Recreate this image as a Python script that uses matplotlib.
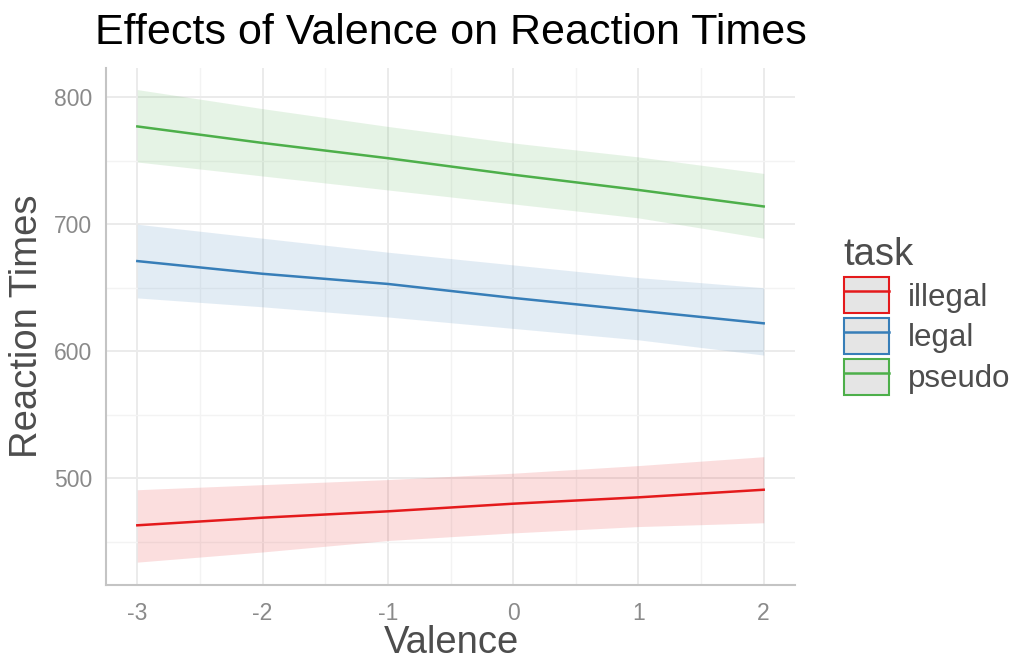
import matplotlib
matplotlib.use("Agg")
import matplotlib.pyplot as plt
from matplotlib.patches import Patch
from matplotlib.lines import Line2D
from matplotlib.legend_handler import HandlerTuple

plt.rcParams['font.family'] = ['Liberation Sans', 'DejaVu Sans']

# effect estimates
valence = [-3, -2, -1, 0, 1, 2]
tasks = ['illegal', 'legal', 'pseudo']
fit = {
    'illegal': [463, 469, 474, 480, 485, 491],
    'legal': [671, 661, 653, 642, 632, 622],
    'pseudo': [777, 764, 752, 739, 727, 714],
}
lower = {
    'illegal': [434, 442, 451, 457, 462, 465],
    'legal': [642, 635, 627, 618, 609, 597],
    'pseudo': [749, 738, 727, 716, 705, 689],
}
upper = {
    'illegal': [491, 495, 499, 504, 510, 517],
    'legal': [700, 689, 678, 668, 658, 650],
    'pseudo': [806, 791, 777, 764, 753, 740],
}
colors = {'illegal': '#E41A1C', 'legal': '#377EB8', 'pseudo': '#4DAF4A'}

fig = plt.figure(figsize=(10.21, 6.61), dpi=100)
ax = fig.add_axes([106/1021, 1-585/661, (795-106)/1021, (585-68)/661])

for t in tasks:
    ax.fill_between(valence, lower[t], upper[t], color=colors[t], alpha=0.14, lw=0)
    ax.plot(valence, fit[t], color=colors[t], lw=1.8)

ax.set_xlim(-3.25, 2.25)
ax.set_ylim(416, 823)
ax.set_xticks(valence)
ax.set_xticklabels([str(v) for v in valence])
ax.set_xticks([-2.5, -1.5, -0.5, 0.5, 1.5], minor=True)
ax.set_yticks([500, 600, 700, 800])
ax.set_yticks([450, 550, 650, 750], minor=True)
ax.grid(True, which='major', color='#ebebeb', lw=1.4)
ax.grid(True, which='minor', color='#f3f3f3', lw=1.0)
ax.set_axisbelow(True)
ax.tick_params(which='both', length=0, labelsize=16.5, labelcolor='#8a8a8a')
ax.tick_params(axis='x', pad=12)
ax.tick_params(axis='y', pad=10)
for s in ['top', 'right']:
    ax.spines[s].set_visible(False)
for s in ['left', 'bottom']:
    ax.spines[s].set_color('#c4c4c4')
    ax.spines[s].set_linewidth(1.5)

fig.text(451/1021, 1-643/661, 'Valence', fontsize=27.5, color='#4d4d4d',
         ha='center', va='center')
fig.text(27/1021, 1-326/661, 'Reaction Times', fontsize=27.5, color='#4d4d4d',
         ha='center', va='center', rotation=90)
ax.set_title('Effects of Valence on Reaction Times', fontsize=31, color='black', pad=17)

handles = [(Patch(facecolor='#e5e5e5', edgecolor=colors[t], lw=1.5),
            Line2D([], [], color=colors[t], lw=1.8)) for t in tasks]
leg = fig.legend(handles, tasks, loc='upper left',
                 bbox_to_anchor=(828/1021, 1-221/661), frameon=False,
                 fontsize=22.5, title='task', title_fontsize=27.5,
                 handler_map={tuple: HandlerTuple(ndivide=1, pad=0)},
                 handlelength=1.45, handleheight=1.42, labelspacing=0.14,
                 handletextpad=0.6, borderpad=0, alignment='left')
for txt in leg.get_texts():
    txt.set_color('#4d4d4d')
leg.get_title().set_color('#4d4d4d')

fig.savefig('out.png', dpi=100)
